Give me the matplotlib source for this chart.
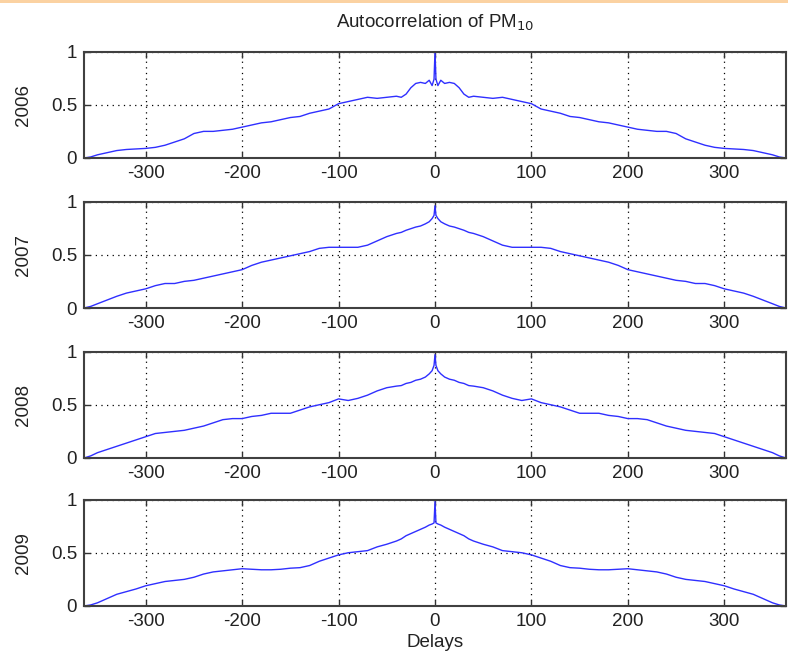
import matplotlib
matplotlib.use("Agg")
import matplotlib.pyplot as plt
import numpy as np

plt.rcParams['font.family'] = ['Liberation Sans', 'DejaVu Sans']
plt.rcParams['axes.unicode_minus'] = False

# positive delays; the autocorrelation is symmetric so negative delays mirror these
lags = [0, 1, 3, 6, 10, 15, 20, 25, 30, 35, 40, 50, 60, 70, 80, 90, 100, 110, 120,
        130, 140, 150, 160, 170, 180, 190, 200, 210, 220, 230, 240, 250, 260, 270,
        280, 290, 300, 310, 320, 330, 340, 350, 357, 364]

ac_2006 = [1.00, 0.74, 0.68, 0.73, 0.70, 0.71, 0.70, 0.66, 0.60, 0.57, 0.58, 0.57,
           0.56, 0.57, 0.55, 0.53, 0.51, 0.46, 0.44, 0.42, 0.39, 0.38, 0.36, 0.34,
           0.33, 0.31, 0.29, 0.27, 0.26, 0.25, 0.25, 0.23, 0.18, 0.15, 0.12, 0.10,
           0.09, 0.085, 0.08, 0.07, 0.05, 0.03, 0.01, 0.00]
ac_2007 = [0.96, 0.87, 0.84, 0.81, 0.79, 0.77, 0.76, 0.745, 0.73, 0.71, 0.70, 0.67,
           0.63, 0.59, 0.57, 0.57, 0.57, 0.57, 0.56, 0.53, 0.51, 0.49, 0.47, 0.45,
           0.43, 0.40, 0.36, 0.34, 0.32, 0.30, 0.28, 0.26, 0.25, 0.23, 0.23, 0.21,
           0.18, 0.16, 0.14, 0.11, 0.075, 0.04, 0.015, 0.00]
ac_2008 = [0.97, 0.87, 0.82, 0.79, 0.76, 0.74, 0.73, 0.71, 0.70, 0.68, 0.675, 0.66,
           0.63, 0.59, 0.56, 0.54, 0.555, 0.52, 0.50, 0.48, 0.45, 0.42, 0.42, 0.42,
           0.40, 0.39, 0.37, 0.37, 0.36, 0.33, 0.30, 0.28, 0.26, 0.25, 0.24, 0.23,
           0.20, 0.17, 0.14, 0.11, 0.08, 0.05, 0.02, 0.00]
ac_2009 = [0.98, 0.78, 0.77, 0.76, 0.74, 0.72, 0.70, 0.68, 0.66, 0.63, 0.61, 0.58,
           0.555, 0.52, 0.51, 0.50, 0.48, 0.45, 0.42, 0.38, 0.36, 0.355, 0.345, 0.34,
           0.34, 0.345, 0.35, 0.34, 0.33, 0.32, 0.30, 0.27, 0.25, 0.24, 0.23, 0.21,
           0.19, 0.16, 0.135, 0.11, 0.07, 0.03, 0.01, 0.00]

years = ['2006', '2007', '2008', '2009']
series = [ac_2006, ac_2007, ac_2008, ac_2009]
xticks = [-300, -200, -100, 0, 100, 200, 300]
yticks = [0, 0.5, 1]
yticklabels = ['0', '0.5', '1']

fig = plt.figure(figsize=(7.88, 6.67), dpi=100)

# panel boxes in figure fraction: left, bottom, width, height
left, width, height = 84 / 788, 702 / 788, 106.5 / 667
bottoms = [1 - 158 / 667, 1 - 308 / 667, 1 - 458 / 667, 1 - 606 / 667]

text_color = '#222222'
fs = 13.5
lag_arr = np.array(lags)

for i, (year, vals) in enumerate(zip(years, series)):
    ax = fig.add_axes([left, bottoms[i], width, height])
    v = np.array(vals)
    x = np.concatenate([-lag_arr[::-1], lag_arr[1:]])
    y = np.concatenate([v[::-1], v[1:]])
    ax.plot(x, y, color='#2f2fff', lw=1.0)
    ax.set_xlim(-364, 364)
    ax.set_ylim(0, 1)
    ax.set_xticks(xticks)
    ax.set_yticks(yticks)
    ax.set_yticklabels(yticklabels)
    ax.grid(True, color='black', linestyle=(0, (1, 3.5)), linewidth=0.9)
    ax.tick_params(direction='in', top=True, right=True, length=4, width=1,
                   labelsize=fs, pad=5, colors='#333333', labelcolor=text_color)
    for sp in ax.spines.values():
        sp.set_color('#404040')
        sp.set_linewidth(1.5)
    ax.set_ylabel(year, fontsize=fs, color=text_color)
    ax.yaxis.set_label_coords(-0.074, 0.5)
    if i == 0:
        ax.set_title('Autocorrelation of PM$_{10}$', fontsize=fs, color=text_color, pad=17)
    if i == 3:
        ax.set_xlabel('Delays', fontsize=fs, color=text_color, labelpad=3)

# thin orange strip along the top edge of the original slide
fig.add_artist(plt.Rectangle((0, 1 - 3 / 667), 1, 3 / 667, transform=fig.transFigure,
                             color='#fbd2a2', lw=0))

fig.savefig('out.png', dpi=100)
